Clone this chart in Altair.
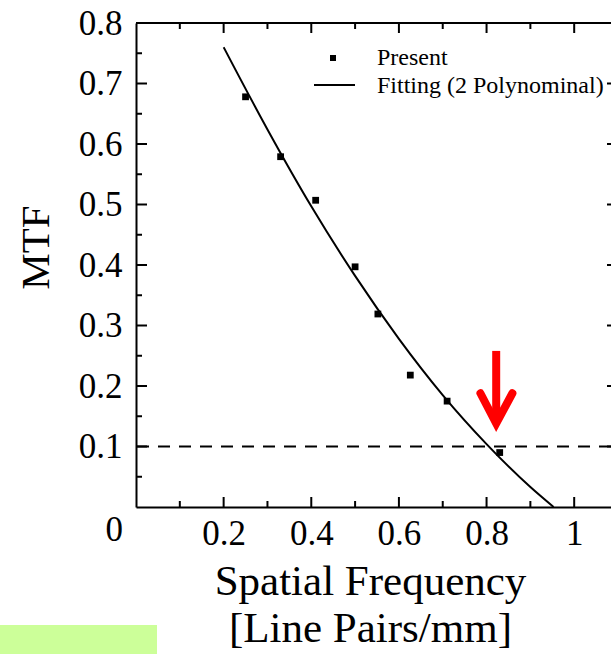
import altair as alt
import pandas as pd

# ---- data ----
present_x = [0.250, 0.330, 0.410, 0.500, 0.552, 0.626, 0.710, 0.830]
present_y = [0.678, 0.579, 0.507, 0.397, 0.319, 0.218, 0.175, 0.090]

fit_x = [0.20, 0.30, 0.40, 0.50, 0.60, 0.70, 0.80, 0.90, 0.953]
fit_y = [0.760, 0.624, 0.497, 0.382, 0.278, 0.185, 0.104, 0.033, 0.0]

threshold = [0.1]

arrow_shaft_x = [0.822, 0.822]
arrow_shaft_y = [0.258, 0.150]
arrow_head_x = [0.786, 0.822, 0.859]
arrow_head_y = [0.188, 0.138, 0.188]

x_label_vals = [0.2, 0.4, 0.6, 0.8, 1.0]
y_label_vals = [0.1, 0.2, 0.3, 0.4, 0.5, 0.6, 0.7, 0.8]
x_major = [0.2, 0.4, 0.6, 0.8, 1.0]
x_minor = [0.1, 0.3, 0.5, 0.7, 0.9]
y_major = [0.1, 0.2, 0.3, 0.4, 0.5, 0.6, 0.7]
y_minor = [0.05, 0.15, 0.25, 0.35, 0.45, 0.55, 0.65, 0.75]

legend_labels = ["Present", "Fitting (2 Polynominal)"]

# ---- layout ----
W, H = 475, 484
FONT = "Liberation Serif"
xs = alt.Scale(domain=[0, 1.084], nice=False, zero=False)
ys = alt.Scale(domain=[0, 0.8], nice=False)

pts = pd.DataFrame({"x": present_x, "y": present_y})
fit = pd.DataFrame({"x": fit_x, "y": fit_y, "o": list(range(len(fit_x)))})
thr = pd.DataFrame({"y": threshold})
shaft = pd.DataFrame({"x": arrow_shaft_x, "y": arrow_shaft_y, "o": [0, 1]})
head = pd.DataFrame({"x": arrow_head_x, "y": arrow_head_y, "o": [0, 1, 2]})
one = pd.DataFrame({"a": [0]})

x_axis = alt.Axis(
    values=x_label_vals,
    labelExpr="datum.value == 1 ? '1' : format(datum.value, '.1f')",
    labelFont=FONT, labelFontSize=35, labelColor="black", labelPadding=9,
    ticks=False, domainColor="black", domainWidth=2, grid=False,
    title=["Spatial Frequency", "[Line Pairs/mm]"],
    titleFont=FONT, titleFontSize=43, titleFontWeight="normal", titleColor="black",
    titleLineHeight=47, titleBaseline="alphabetic", titleY=87, titleX=234,
)
y_axis = alt.Axis(
    values=y_label_vals, format=".1f",
    labelFont=FONT, labelFontSize=35, labelColor="black", labelPadding=14,
    ticks=False, domainColor="black", domainWidth=2, grid=False,
    title="MTF", titleFont=FONT, titleFontSize=41, titleFontWeight="normal",
    titleColor="black", titleAngle=-90, titleX=-100, titleY=224,
    titleBaseline="middle", titleAlign="center",
)


def X(field="x"):
    return alt.X(f"{field}:Q", scale=xs, axis=x_axis)


def Y(field="y"):
    return alt.Y(f"{field}:Q", scale=ys, axis=y_axis)


points = alt.Chart(pts).mark_point(shape="square", filled=True, color="black", size=46, opacity=1).encode(
    x=X(), y=Y(),
)

curve = alt.Chart(fit).mark_line(color="black", strokeWidth=2, interpolate="monotone").encode(
    x=X(), y=Y(), order="o:Q",
)

dashed = alt.Chart(thr).mark_rule(color="black", strokeWidth=2, strokeDash=[12, 9]).encode(
    y=Y(),
)

top_line = alt.Chart(one).mark_rule(color="black", strokeWidth=2).encode(
    y=alt.value(0), x=alt.value(0), x2=alt.value(W)
)


def yticks(vals, x0, x1):
    return alt.Chart(pd.DataFrame({"y": vals})).mark_rule(color="black", strokeWidth=2).encode(
        y=Y(), x=alt.value(x0), x2=alt.value(x1)
    )


def xticks(vals, y0, y1):
    return alt.Chart(pd.DataFrame({"x": vals})).mark_rule(color="black", strokeWidth=2).encode(
        x=X(), y=alt.value(y0), y2=alt.value(y1)
    )


ticks = [
    yticks(y_major, 0, 11), yticks(y_minor, 0, 6),
    yticks(y_major, W - 4, W),
    xticks(x_major, H, H - 10), xticks(x_minor, H, H - 6),
    xticks(x_major, 0, 10), xticks(x_minor, 0, 6),
]

shaft_l = alt.Chart(shaft).mark_line(color="#ff0000", strokeWidth=8, strokeCap="butt").encode(
    x=X(), y=Y(), order="o:Q"
)
head_l = alt.Chart(head).mark_line(color="#ff0000", strokeWidth=8, strokeCap="round", strokeJoin="miter").encode(
    x=X(), y=Y(), order="o:Q"
)

zero_lbl = alt.Chart(one).mark_text(font=FONT, fontSize=35, color="black", align="right", baseline="middle").encode(
    x=alt.value(-13), y=alt.value(H + 23), text=alt.value("0")
)

leg_pt = alt.Chart(one).mark_point(shape="square", filled=True, color="black", size=36, opacity=1).encode(
    x=alt.value(197), y=alt.value(35)
)
leg_line = alt.Chart(one).mark_rule(color="black", strokeWidth=2).encode(
    x=alt.value(178), x2=alt.value(219), y=alt.value(62)
)
leg_t1 = alt.Chart(one).mark_text(font=FONT, fontSize=24, color="black", align="left", baseline="middle").encode(
    x=alt.value(241), y=alt.value(35), text=alt.value(legend_labels[0])
)
leg_t2 = alt.Chart(one).mark_text(font=FONT, fontSize=24, color="black", align="left", baseline="middle").encode(
    x=alt.value(241), y=alt.value(63), text=alt.value(legend_labels[1])
)

green = alt.Chart(one).mark_rect(color="#ccff99").encode(
    x=alt.value(-136), x2=alt.value(21), y=alt.value(602), y2=alt.value(631)
)

chart = alt.layer(
    points, green, dashed, curve, top_line, *ticks, shaft_l, head_l, zero_lbl,
    leg_pt, leg_line, leg_t1, leg_t2,
).properties(
    width=W, height=H,
    autosize=alt.AutoSizeParams(type="none"),
    padding={"left": 136, "top": 23, "right": 0, "bottom": 147},
    background="white",
).configure_view(stroke=None)

chart.save("out.html", embed_options={"renderer": "svg", "actions": False})
